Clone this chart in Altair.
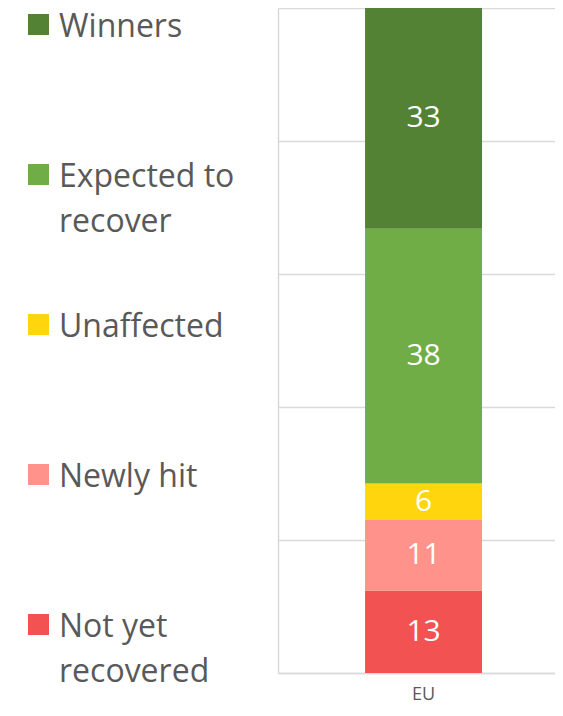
import altair as alt
import pandas as pd

# Segments, bottom of the stack first
segments = ["Not yet recovered", "Newly hit", "Unaffected", "Expected to recover", "Winners"]
legend_text = ["Not yet\nrecovered", "Newly hit", "Unaffected", "Expected to\nrecover", "Winners"]
shares = [12.4, 10.6, 5.5, 38.3, 33.2]      # bar heights (%)
value_labels = ["13", "11", "6", "38", "33"]  # printed labels
colors = ["#F25252", "#FF928B", "#FFD60D", "#70AD47", "#548235"]
region = ["EU", "EU", "EU", "EU", "EU"]
grid_values = [0, 20, 40, 60, 80, 100]

df = pd.DataFrame({
    "segment": segments,
    "legend": legend_text,
    "share": shares,
    "label": value_labels,
    "region": region,
    "stack_order": list(range(len(segments))),
})

TEXT_GREY = "#595959"
LINE_GREY = "#d9d9d9"

color_scale = alt.Scale(domain=segments, range=colors)
top_down = segments[::-1]

# ---- custom legend (left column) ----
legend_y = alt.Y("segment:N", sort=top_down,
                 scale=alt.Scale(type="point", padding=0.11), axis=None)
legend_sq = alt.Chart(df).mark_square(size=441, opacity=1, strokeWidth=0).encode(
    x=alt.value(30.5),
    y=legend_y,
    color=alt.Color("segment:N", scale=color_scale, legend=None),
)
legend_tx = alt.Chart(df).mark_text(
    align="left", baseline="middle", dy=2, lineBreak="\n", lineHeight=45,
    font="Open Sans", fontSize=32, color=TEXT_GREY,
).encode(
    x=alt.value(51),
    y=legend_y,
    text="legend:N",
)
legend = alt.layer(legend_sq, legend_tx).properties(width=260, height=633)

# ---- stacked bar ----
x_enc = alt.X("region:N",
              scale=alt.Scale(paddingOuter=0.684, paddingInner=0, align=0.544),
              axis=alt.Axis(title=None, ticks=False, tickSize=0, grid=False,
                            domainColor=LINE_GREY, domainWidth=1.5,
                            labelFont="Open Sans", labelFontSize=18,
                            labelColor=TEXT_GREY, labelAngle=0, labelPadding=12))
y_axis = alt.Axis(values=grid_values, labels=False, ticks=False, title=None,
                  grid=True, gridColor=LINE_GREY, gridWidth=1.3,
                  domainColor=LINE_GREY, domainWidth=1.5)
y_scale = alt.Scale(domain=[0, 100], nice=False)

bars = alt.Chart(df).mark_bar().encode(
    x=x_enc,
    y=alt.Y("share:Q", stack="zero", scale=y_scale, axis=y_axis),
    color=alt.Color("segment:N", scale=color_scale, legend=None),
    order=alt.Order("stack_order:Q", sort="ascending"),
)

labels = alt.Chart(df).transform_stack(
    stack="share", groupby=["region"], as_=["y0", "y1"],
    sort=[alt.SortField("stack_order", order="ascending")],
).transform_calculate(
    mid="(datum.y0 + datum.y1) / 2"
).mark_text(
    color="white", font="Open Sans", fontSize=30, baseline="middle"
).encode(
    x=x_enc,
    y=alt.Y("mid:Q", scale=y_scale, axis=y_axis),
    text="label:N",
)

bar_view = alt.layer(bars, labels).properties(width=277, height=665)

chart = alt.hconcat(legend, bar_view, spacing=10, bounds="flush").properties(
    padding=0
).configure_view(strokeWidth=0)

chart.save("out.html", embed_options={"renderer": "svg", "actions": False})
